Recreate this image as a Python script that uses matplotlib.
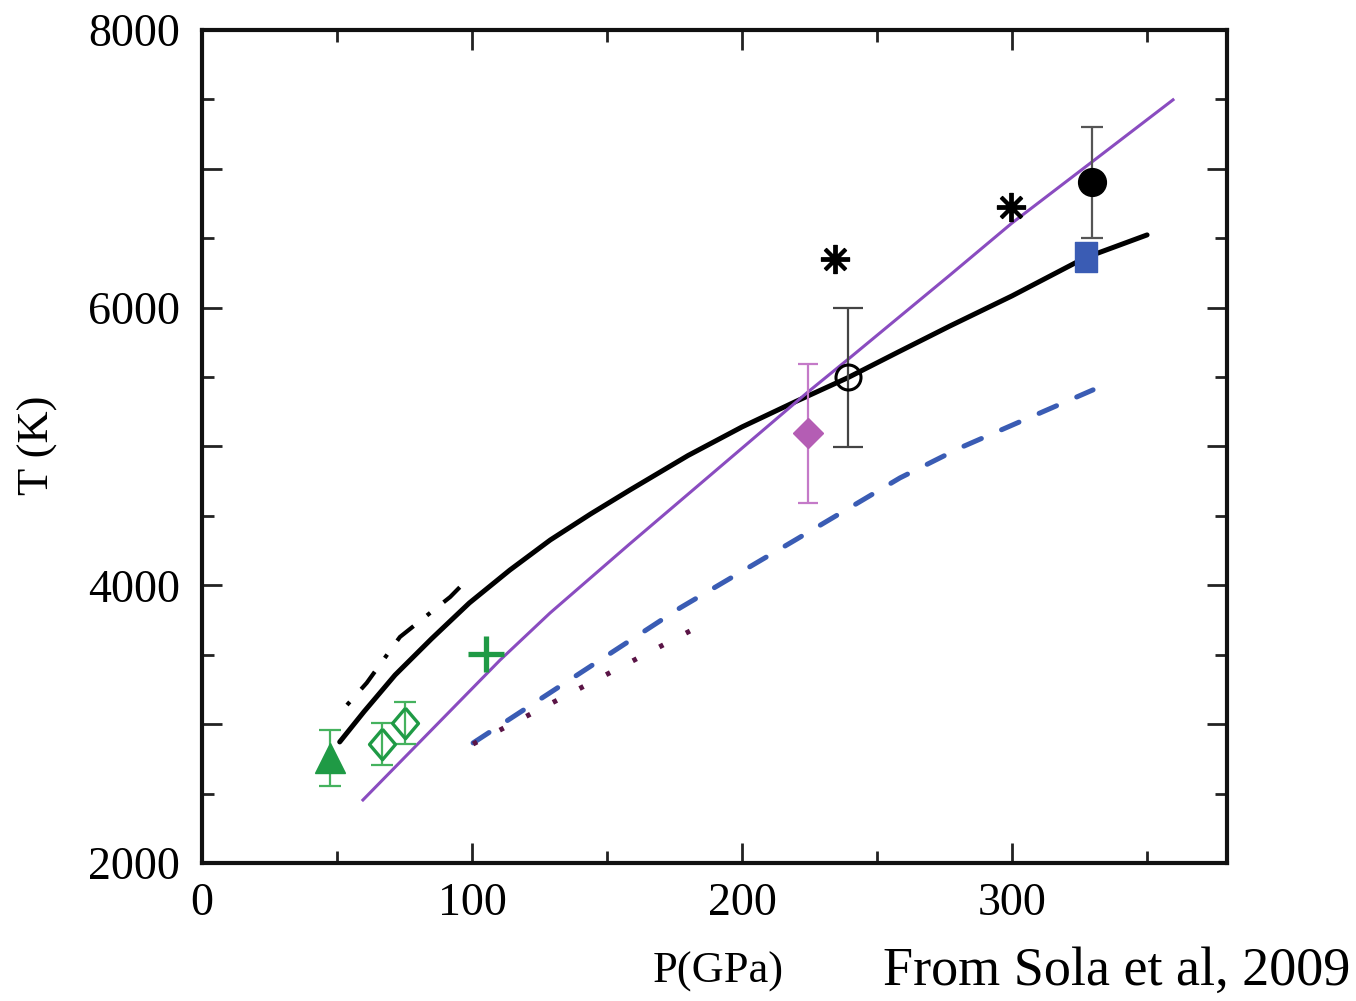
import matplotlib
matplotlib.use("Agg")
import matplotlib.pyplot as plt
from matplotlib.ticker import MultipleLocator, FuncFormatter

plt.rcParams['font.family'] = ['Liberation Serif', 'DejaVu Serif']

# ---- data ----
black_P = [51, 60, 71.5, 85, 99, 114, 129, 144, 158.5, 180, 200, 220, 239, 258, 277, 300, 327, 350]
black_T = [2872, 3090, 3354, 3615, 3873, 4110, 4327, 4515, 4687, 4935, 5141, 5325, 5494,
           5682, 5868, 6085, 6359, 6524]

dashdot_P = [53.7, 61, 73.3, 91.9, 96.3]
dashdot_T = [3138, 3297, 3628, 3916, 4003]

purple_P = [59.6, 110.4, 128.9, 158.5, 224, 240, 277, 300, 329.6, 359.6]
purple_T = [2454, 3462, 3801, 4300, 5386, 5640, 6235, 6610, 7050, 7497]

blue_P = [100.4, 177, 220, 258.5, 280.7, 330]
blue_T = [2865, 3837, 4330, 4774, 4990, 5408]

dotted_P = [100.4, 181.5]
dotted_T = [2857, 3679]

tri_P, tri_T, tri_err = [47.4], [2755], [200]
odia_P, odia_T, odia_err = [66.7, 75.2], [2857, 3008], [150, 150]
plus_P, plus_T = [105.2], [3505]
mdia_P, mdia_T, mdia_err = [224.4], [5095], [500]
ocirc_P, ocirc_T, ocirc_err = [239.3], [5497], [500]
star_P, star_T = [234.4, 299.5], [6348, 6726]
fcirc_P, fcirc_T, fcirc_err = [329.6], [6903], [400]
sq_P, sq_T = [327.4], [6362]

x_ticks_major = [0, 100, 200, 300]

# ---- figure ----
fig = plt.figure(figsize=(13.56, 10.01), dpi=100)
ax = fig.add_axes([202/1356, 1-863/1001, (1227-202)/1356, (863-30)/1001])

green = '#1f9a45'
green_light = '#45b25e'
purple = '#8a4cc0'
magenta = '#b45db4'
blue = '#3a5cb4'
dotcol = '#5a1446'

ax.plot(black_P, black_T, color='black', lw=3.6, solid_capstyle='round',
        solid_joinstyle='round', zorder=3)
ax.plot(dashdot_P, dashdot_T, color='black', lw=3.0, dashes=(1.0, 4.1, 5.3, 4.1),
        dash_capstyle='butt', zorder=3)
ax.plot(purple_P, purple_T, color=purple, lw=2.2, solid_joinstyle='round', zorder=3)
ax.plot(blue_P, blue_T, color=blue, lw=3.6, dashes=(3.8, 4.4), dash_capstyle='round', zorder=3)
ax.plot(dotted_P, dotted_T, color=dotcol, lw=3.6, dashes=(0.9, 5.1), zorder=3)

# error-bar markers
ax.errorbar(tri_P, tri_T, yerr=tri_err, fmt='^', ms=21, color=green, ecolor=green_light,
            elinewidth=1.6, capsize=8, capthick=1.6, zorder=4)
diamond_tall = [(0, 1), (0.85, 0), (0, -1), (-0.85, 0), (0, 1)]
ax.errorbar(odia_P, odia_T, yerr=odia_err, fmt='none', ecolor=green_light,
            elinewidth=1.6, capsize=8, capthick=1.6, zorder=4)
ax.plot(odia_P, odia_T, ls='none', marker=diamond_tall, ms=22, mfc='none', mec=green,
        mew=2.4, zorder=5)
ax.plot(plus_P, plus_T, ls='none', marker='+', ms=26, mew=3.8, color=green, zorder=5)
ax.errorbar(mdia_P, mdia_T, yerr=mdia_err, fmt='D', ms=15.5, color=magenta, ecolor='#c47ac8',
            elinewidth=1.6, capsize=7, capthick=1.6, zorder=4)
ax.errorbar(ocirc_P, ocirc_T, yerr=ocirc_err, fmt='none', ecolor='#444444',
            elinewidth=1.6, capsize=11, capthick=1.6, zorder=4)
ax.plot(ocirc_P, ocirc_T, ls='none', marker='o', ms=18, mfc='none', mec='black', mew=2.2, zorder=5)
ax.plot(star_P, star_T, ls='none', marker=(8, 2, 0), ms=21, mew=2.8, color='black', zorder=5)
ax.errorbar(fcirc_P, fcirc_T, yerr=fcirc_err, fmt='o', ms=20, color='black', ecolor='#555555',
            elinewidth=1.6, capsize=8, capthick=1.6, zorder=4)
rect_tall = [(-0.37, -0.5), (0.37, -0.5), (0.37, 0.5), (-0.37, 0.5), (-0.37, -0.5)]
ax.plot(sq_P, sq_T, ls='none', marker=rect_tall, ms=21, color=blue, mec=blue, zorder=5)

# axes
ax.set_xlim(0, 379.6)
ax.set_ylim(2000, 8000)
ax.set_xticks(x_ticks_major)
ax.xaxis.set_minor_locator(MultipleLocator(50))
ax.yaxis.set_major_locator(MultipleLocator(1000))
ax.yaxis.set_minor_locator(MultipleLocator(500))
ax.yaxis.set_major_formatter(FuncFormatter(lambda v, p: f"{int(v)}" if int(v) % 2000 == 0 else ""))
ax.tick_params(which='both', direction='in', top=True, right=True, width=2.0, labelsize=33,
               color='#222222')
ax.tick_params(which='major', length=14.5)
ax.tick_params(which='minor', length=8.5)
ax.tick_params(axis='y', which='major', pad=16)
ax.tick_params(axis='x', which='major', pad=14)
for s in ax.spines.values():
    s.set_linewidth(3.0)
    s.set_color('#111111')

fig.text(38/1356, 1-445/1001, 'T (K)', rotation=90, fontsize=32, ha='center', va='center')
fig.text(718/1356, 1-972/1001, 'P(GPa)', fontsize=32, ha='center', va='center')
fig.text(1350/1356, 1-972/1001, 'From Sola et al, 2009', fontsize=39, ha='right', va='center')

fig.savefig('out.png', dpi=100)
